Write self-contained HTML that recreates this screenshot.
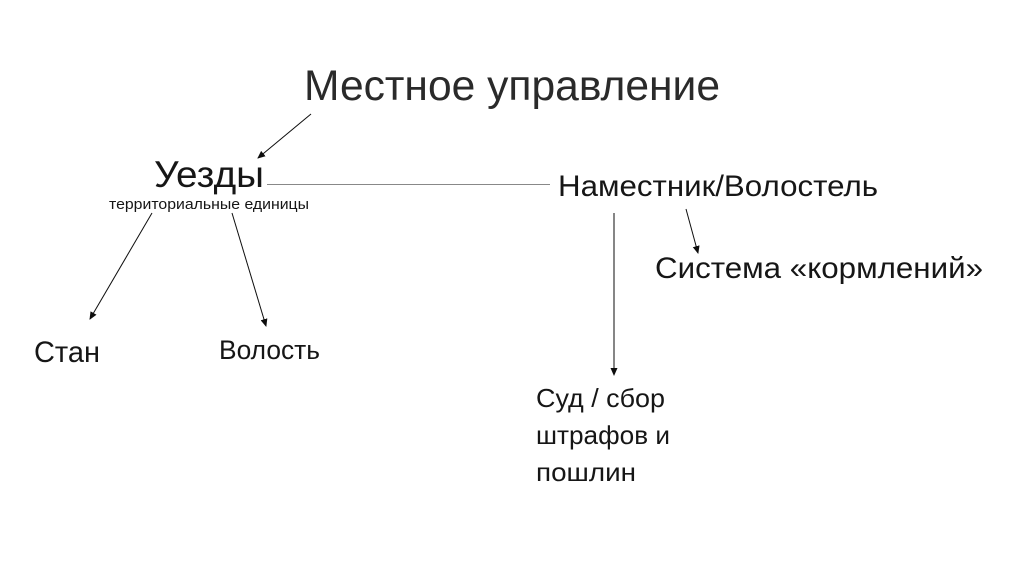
<!DOCTYPE html>
<html>
<head>
<meta charset="utf-8">
<style>
html,body{margin:0;padding:0;background:#fff}
svg{display:block}
text{font-family:"Liberation Sans","DejaVu Sans",sans-serif;fill:#151515}
</style>
</head>
<body>
<svg width="1024" height="574" viewBox="0 0 1024 574" xmlns="http://www.w3.org/2000/svg">
<defs>
<marker id="a" markerWidth="8" markerHeight="8" refX="7" refY="3.5" orient="auto" markerUnits="userSpaceOnUse">
<path d="M0,0 L8,3.5 L0,7 Z" fill="#111"/>
</marker>
<filter id="s" x="0" y="0" width="100%" height="100%"><feGaussianBlur stdDeviation="0.3"/></filter>
</defs>
<rect width="1024" height="574" fill="#fff"/>
<g filter="url(#s)">
<text x="304" y="100" font-size="43" style="fill:#2a2a2a" textLength="416" lengthAdjust="spacingAndGlyphs">Местное управление</text>
<text x="154" y="187" font-size="37" textLength="110" lengthAdjust="spacingAndGlyphs">Уезды</text>
<text x="109" y="209" font-size="14.5" textLength="200" lengthAdjust="spacingAndGlyphs">территориальные единицы</text>
<text x="558" y="196" font-size="30" textLength="320" lengthAdjust="spacingAndGlyphs">Наместник/Волостель</text>
<text x="655" y="278" font-size="30" textLength="328" lengthAdjust="spacingAndGlyphs">Система «кормлений»</text>
<text x="34" y="362" font-size="30" textLength="66" lengthAdjust="spacingAndGlyphs">Стан</text>
<text x="219" y="359" font-size="27" textLength="101" lengthAdjust="spacingAndGlyphs">Волость</text>
<text x="536" y="407" font-size="26" textLength="129" lengthAdjust="spacingAndGlyphs">Суд / сбор</text>
<text x="536" y="444" font-size="26" textLength="134" lengthAdjust="spacingAndGlyphs">штрафов и</text>
<text x="536" y="481" font-size="26" textLength="100" lengthAdjust="spacingAndGlyphs">пошлин</text>
<g stroke="#111" stroke-width="1" fill="none">
<line x1="311" y1="114" x2="258" y2="158" marker-end="url(#a)"/>
<line x1="267" y1="184.5" x2="550" y2="184.5" stroke="#888"/>
<line x1="152" y1="213" x2="90" y2="319" marker-end="url(#a)"/>
<line x1="232" y1="213" x2="266" y2="326" marker-end="url(#a)"/>
<line x1="614" y1="213" x2="614" y2="375" marker-end="url(#a)"/>
<line x1="686" y1="209" x2="698" y2="253" marker-end="url(#a)"/>
</g>
</g>
</svg>
</body>
</html>
